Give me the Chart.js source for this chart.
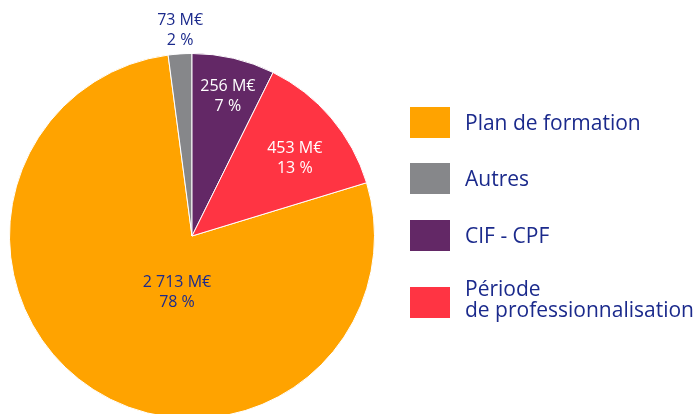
<!DOCTYPE html>
<html>
<head>
<meta charset="utf-8">
<script src="https://cdn.jsdelivr.net/npm/chart.js@4/dist/chart.umd.min.js"></script>
<style>
  html, body { margin: 0; padding: 0; background: #fff; overflow: hidden; }
  #wrap { position: relative; width: 698px; height: 440px; }
  #legend { position: absolute; left: 410px; top: 107px; font-family: "Open Sans", sans-serif; color: #1b2a8c; font-size: 21px; }
  .item { position: absolute; left: 0; width: 290px; }
  .box { position: absolute; left: 0; width: 40px; height: 31px; }
  .txt { position: absolute; left: 55px; line-height: 21px; white-space: nowrap; }
</style>
</head>
<body>
<div id="wrap">
  <canvas id="piechart"></canvas>
  <div id="legend"></div>
</div>
<script>
// Data
const categories = ['Plan de formation', 'Autres', 'CIF - CPF', 'Période\nde professionnalisation'];
const amounts = [2713, 73, 256, 453]; // M€
const percents = [78, 2, 7, 13];
const colors = ['#ffa300', '#86878a', '#632866', '#ff3443'];
const labelColors = ['#1b2a8c', '#1b2a8c', '#ffffff', '#ffffff'];

// where each value label sits: angle clockwise from top (deg), fraction of radius
const labelAngles = [194.9, 356.7, 14.4, 52.9];
const labelRadii = [0.32, 1.13, 0.79, 0.706];

const total = amounts.reduce((a, b) => a + b, 0);
// CIF - CPF slice starts at 12 o'clock
const startRotation = -(amounts[0] + amounts[1]) / total * 360;

function fmt(n) {
    return String(n).replace(/\B(?=(\d{3})+(?!\d))/g, ' ');
}

// value labels on the slices
const sliceLabels = {
    id: 'sliceLabels',
    afterDatasetsDraw(chart) {
        const ctx = chart.ctx;
        const meta = chart.getDatasetMeta(0);
        meta.data.forEach((arc, i) => {
            const a = labelAngles[i] * Math.PI / 180;
            const r = arc.outerRadius * labelRadii[i];
            const x = arc.x + r * Math.sin(a);
            const y = arc.y - r * Math.cos(a);
            ctx.save();
            ctx.fillStyle = labelColors[i];
            ctx.textAlign = 'center';
            ctx.textBaseline = 'middle';
            ctx.font = '16px "Open Sans"';
            ctx.fillText(fmt(amounts[i]) + ' M€', x, y - 10);
            ctx.font = '500 16px "Open Sans"';
            ctx.fillText(percents[i] + ' %', x, y + 10);
            ctx.restore();
        });
    }
};

const ctxPie = document.getElementById('piechart');
new Chart(ctxPie, {
    type: 'pie',
    data: {
        labels: categories,
        datasets: [{
            data: amounts,
            backgroundColor: colors,
            borderColor: '#ffffff',
            borderWidth: 1
        }]
    },
    options: {
        responsive: true,
        maintainAspectRatio: false,
        animation: false,
        rotation: startRotation,
        layout: {
            padding: { left: 9, top: 53, right: 323, bottom: 21 }
        },
        plugins: {
            legend: { display: false },
            tooltip: { enabled: false }
        }
    },
    plugins: [sliceLabels]
});

// Legend on the right
const legendTops = [0, 56, 113, 180];
const legend = document.getElementById('legend');
categories.forEach((name, i) => {
    const item = document.createElement('div');
    item.className = 'item';
    item.style.top = legendTops[i] + 'px';
    const box = document.createElement('div');
    box.className = 'box';
    box.style.background = colors[i];
    const txt = document.createElement('div');
    txt.className = 'txt';
    const lines = name.split('\n');
    txt.innerHTML = lines.join('<br>');
    txt.style.top = lines.length > 1 ? '-9px' : '5px';
    item.appendChild(box);
    item.appendChild(txt);
    legend.appendChild(item);
});
</script>
</body>
</html>
